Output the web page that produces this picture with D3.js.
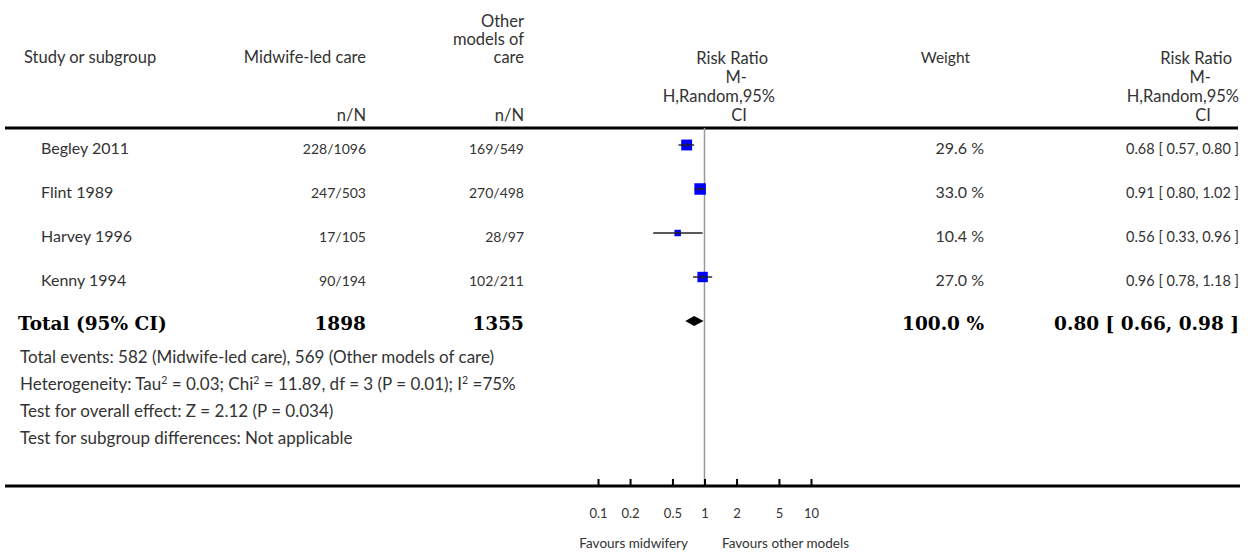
<!DOCTYPE html>
<html lang="en">
<head>
  <meta charset="utf-8">
  <title>Forest plot</title>
  <script src="https://d3js.org/d3.v7.min.js"></script>
  <style>
    body { margin: 0; background: #fff; }
    text { font-family: Lato, "Open Sans", sans-serif; fill: #333; }
    text.bold { font-family: "DejaVu Serif", "Liberation Serif", serif; font-weight: bold; fill: #000; }
  </style>
</head>
<body>
	<script type="text/javascript">

		// study rows
		var studies = ["Begley 2011", "Flint 1989", "Harvey 1996", "Kenny 1994"];
		var midwifeNN = ["228/1096", "247/503", "17/105", "90/194"];
		var otherNN = ["169/549", "270/498", "28/97", "102/211"];
		var weights = [29.6, 33.0, 10.4, 27.0];
		var rr = [0.68, 0.91, 0.56, 0.96];
		var lower = [0.57, 0.80, 0.33, 0.78];
		var upper = [0.80, 1.02, 0.96, 1.18];

		// pooled result
		var totalMidwife = 1898;
		var totalOther = 1355;
		var totalWeight = 100.0;
		var totalRR = 0.80;
		var totalLower = 0.66;
		var totalUpper = 0.98;

		// axis
		var tickValues = [0.1, 0.2, 0.5, 1, 2, 5, 10];
		var tickLabels = ["0.1", "0.2", "0.5", "1", "2", "5", "10"];

		var width = 1253;
		var height = 554;

		var svg = d3.select("body")
					.append("svg")
					.attr("width", width)
					.attr("height", height);

		// columns (right edges, except study)
		var col = {study: 41, midwife: 366, other: 524, weight: 984, rrText: 1239};
		var lineTop = 128, axisY = 486;

		var xScale = d3.scaleLog()
					   .domain([0.1, 10])
					   .range([598, 811]);

		var yScale = d3.scalePoint()
					   .domain(d3.range(studies.length + 1))
					   .range([145, 321]);

		var sizeScale = d3.scaleSqrt()
						  .domain([0, 33])
						  .range([0, 11.5]);

		var f2 = d3.format(".2f");
		var f1 = d3.format(".1f");
		function ciText(m, l, u) { return f2(m) + " [ " + f2(l) + ", " + f2(u) + " ]"; }

		// ---------- header ----------
		var head = svg.append("g").attr("font-size", "16.5px");

		head.append("text").attr("x", 24).attr("y", 63).text("Study or subgroup");
		head.append("text").attr("x", col.midwife).attr("y", 63).attr("text-anchor", "end").text("Midwife-led care");
		[["Other", 27], ["models of", 45], ["care", 63]].forEach(function(d) {
			head.append("text").attr("x", col.other).attr("y", d[1]).attr("text-anchor", "end").text(d[0]);
		});
		head.append("text").attr("x", col.midwife).attr("y", 121).attr("text-anchor", "end").text("n/N");
		head.append("text").attr("x", col.other).attr("y", 121).attr("text-anchor", "end").text("n/N");
		head.append("text").attr("x", 970).attr("y", 63).attr("text-anchor", "end").attr("font-size", "15.5px").text("Weight");

		// two "Risk Ratio" headers, each line with its own right edge
		function rrHeader(right) {
			[["Risk Ratio", 64, -7], ["M-", 83, -28], ["H,Random,95%", 102, 0], ["CI", 121, -28]].forEach(function(d) {
				head.append("text").attr("x", right + d[2]).attr("y", d[1]).attr("text-anchor", "end").text(d[0]);
			});
		}
		rrHeader(775);
		rrHeader(1239);

		svg.append("line")
		   .attr("x1", 5).attr("x2", 1238)
		   .attr("y1", lineTop).attr("y2", lineTop)
		   .attr("stroke", "#000").attr("stroke-width", 3);

		// ---------- line of no effect ----------
		svg.append("line")
		   .attr("x1", xScale(1)).attr("x2", xScale(1))
		   .attr("y1", lineTop).attr("y2", axisY)
		   .attr("stroke", "#999").attr("stroke-width", 1.5);

		// ---------- study rows ----------
		var rows = svg.append("g");
		studies.forEach(function(s, i) {
			var y = yScale(i) + 9;
			rows.append("text").attr("x", col.study).attr("y", y).attr("font-size", "16px").text(s);
			rows.append("text").attr("x", col.midwife).attr("y", y).attr("font-size", "14px").attr("text-anchor", "end").text(midwifeNN[i]);
			rows.append("text").attr("x", col.other).attr("y", y).attr("font-size", "14px").attr("text-anchor", "end").text(otherNN[i]);
			rows.append("text").attr("x", col.weight).attr("y", y).attr("font-size", "16px").attr("text-anchor", "end").text(f1(weights[i]) + " %");
			rows.append("text").attr("x", col.rrText).attr("y", y).attr("font-size", "14.5px").attr("text-anchor", "end").text(ciText(rr[i], lower[i], upper[i]));
		});

		var marks = svg.append("g");
		marks.selectAll("rect")
			 .data(rr)
			 .enter()
			 .append("rect")
			 .attr("x", function(d, i) { return xScale(d) - sizeScale(weights[i]) / 2; })
			 .attr("y", function(d, i) { return yScale(i) - sizeScale(weights[i]) / 2; })
			 .attr("width", function(d, i) { return sizeScale(weights[i]); })
			 .attr("height", function(d, i) { return sizeScale(weights[i]); })
			 .attr("fill", "#0000ff");

		marks.selectAll("line.ci")
			 .data(rr)
			 .enter()
			 .append("line")
			 .attr("class", "ci")
			 .attr("x1", function(d, i) { return xScale(lower[i]); })
			 .attr("x2", function(d, i) { return xScale(upper[i]); })
			 .attr("y1", function(d, i) { return yScale(i); })
			 .attr("y2", function(d, i) { return yScale(i); })
			 .attr("stroke", "#222").attr("stroke-width", 1.4);

		marks.selectAll("line.est")
			 .data(rr)
			 .enter()
			 .append("line")
			 .attr("class", "est")
			 .attr("x1", function(d) { return xScale(d); })
			 .attr("x2", function(d) { return xScale(d); })
			 .attr("y1", function(d, i) { return yScale(i) - 2; })
			 .attr("y2", function(d, i) { return yScale(i) + 2; })
			 .attr("stroke", "#222").attr("stroke-width", 1);

		// ---------- total row ----------
		var ty = yScale(studies.length);
		var tot = svg.append("g").attr("font-size", "18.5px");
		function bold(x, anchor, t) {
			tot.append("text").attr("class", "bold").attr("x", x).attr("y", ty + 9)
			   .attr("text-anchor", anchor).text(t);
		}
		bold(18, "start", "Total (95% CI)");
		bold(col.midwife, "end", totalMidwife);
		bold(col.other, "end", totalOther);
		bold(col.weight, "end", f1(totalWeight) + "  %");
		bold(col.rrText, "end", ciText(totalRR, totalLower, totalUpper));

		svg.append("polygon")
		   .attr("points", [
				[xScale(totalLower), ty],
				[xScale(totalRR), ty - 5],
				[xScale(totalUpper), ty],
				[xScale(totalRR), ty + 5]
		   ].map(function(p) { return p.join(","); }).join(" "))
		   .attr("fill", "#000");

		// ---------- footnotes ----------
		var foot = svg.append("g").attr("font-size", "17px");
		foot.append("text").attr("x", 20).attr("y", 363)
			.text("Total events: 582 (Midwife-led care), 569 (Other models of care)");

		var het = foot.append("text").attr("x", 20).attr("y", 390);
		[["Heterogeneity: Tau", false], ["2", true], [" = 0.03; Chi", false], ["2", true],
		 [" = 11.89, df = 3 (P = 0.01); I", false], ["2", true], [" =75%", false]].forEach(function(p) {
			var t = het.append("tspan").text(p[0]);
			if (p[1]) t.attr("font-size", "10.5px").attr("baseline-shift", "super");
		});

		foot.append("text").attr("x", 20).attr("y", 417).text("Test for overall effect: Z = 2.12 (P = 0.034)");
		foot.append("text").attr("x", 20).attr("y", 444).text("Test for subgroup differences: Not applicable");

		// ---------- axis ----------
		svg.append("line")
		   .attr("x1", 5).attr("x2", 1240)
		   .attr("y1", axisY).attr("y2", axisY)
		   .attr("stroke", "#000").attr("stroke-width", 3);

		var xAxis = d3.axisBottom(xScale)
					  .tickValues(tickValues)
					  .tickFormat(function(d, i) { return tickLabels[i]; })
					  .tickSizeInner(-7)
					  .tickSizeOuter(0)
					  .tickPadding(23);

		var ax = svg.append("g")
					.attr("transform", "translate(0," + axisY + ")")
					.call(xAxis);
		ax.select(".domain").remove();
		ax.selectAll(".tick line").attr("stroke", "#000").attr("stroke-width", 2);
		ax.selectAll(".tick text")
		  .attr("font-family", "Lato, 'Open Sans', sans-serif")
		  .attr("font-size", "13px")
		  .attr("fill", "#333");

		svg.append("text").attr("x", 688).attr("y", 548).attr("text-anchor", "end")
		   .attr("font-size", "13.5px").text("Favours midwifery");
		svg.append("text").attr("x", 722).attr("y", 548)
		   .attr("font-size", "13.5px").text("Favours other models");

	</script>
</body>
</html>
